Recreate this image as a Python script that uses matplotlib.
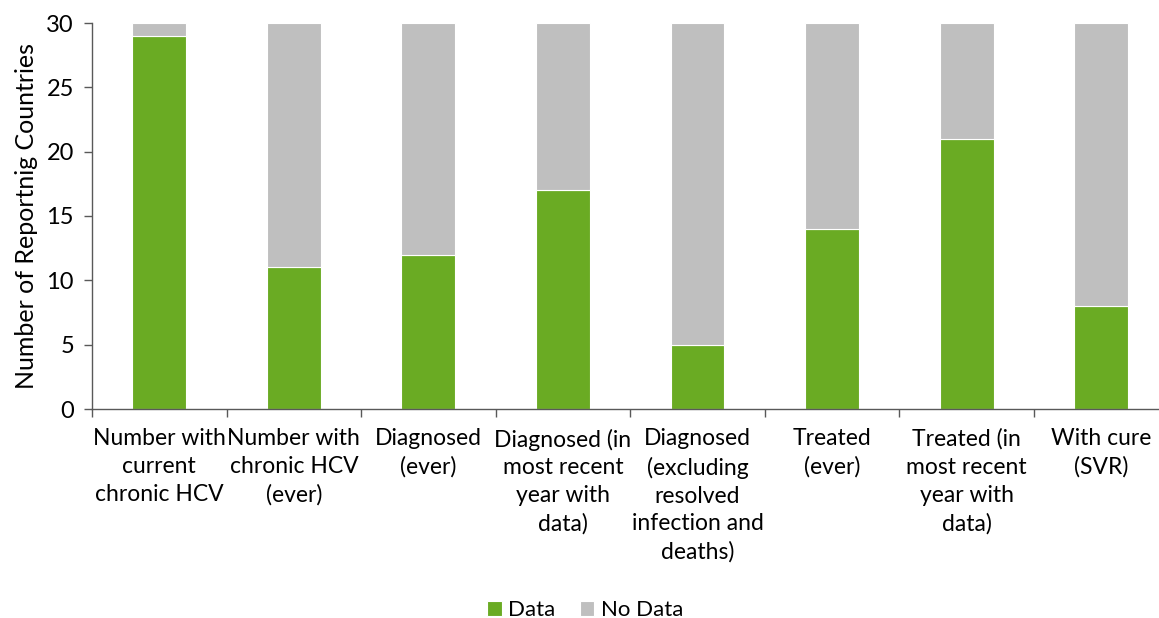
import matplotlib.pyplot as plt
import numpy as np

# -------------------------
# DATA
# -------------------------
categories = [
    'Number with\ncurrent\nchronic HCV',
    'Number with\nchronic HCV\n(ever)',
    'Diagnosed\n(ever)',
    'Diagnosed (in\nmost recent\nyear with\ndata)',
    'Diagnosed\n(excluding\nresolved\ninfection and\ndeaths)',
    'Treated\n(ever)',
    'Treated (in\nmost recent\nyear with\ndata)',
    'With cure\n(SVR)',
]
data = [29, 11, 12, 17, 5, 14, 21, 8]
no_data = [1, 19, 18, 13, 25, 16, 9, 22]

green = '#6AAB23'
grey = '#BFBFBF'

plt.rcParams['font.family'] = ['Lato', 'DejaVu Sans']

fig = plt.figure(figsize=(11.59, 6.18), dpi=100)
ax = fig.add_axes([92 / 1159, 209 / 618, 1 - 92 / 1159, (409 - 23) / 618])

x = np.arange(len(categories))
ax.bar(x, data, width=0.40, color=green, edgecolor='white', linewidth=0.8, label='Data')
ax.bar(x, no_data, width=0.40, bottom=data, color=grey, edgecolor='white', linewidth=0.8, label='No Data')

ax.set_ylim(0, 30)
ax.set_xlim(-0.5, 7.43)
ax.set_yticks(range(0, 31, 5))
ax.tick_params(axis='y', labelsize=17, length=6, width=1, color='#595959', pad=7)

# category labels centred, ticks between categories
ax.set_xticks(x)
ax.set_xticklabels(categories, fontsize=16.5, linespacing=1.4)
ax.tick_params(axis='x', length=0, pad=14)
ax.set_xticks(np.arange(-0.5, 7.5, 1), minor=True)
ax.tick_params(axis='x', which='minor', length=6, width=1, color='#595959')

for side in ['top', 'right']:
    ax.spines[side].set_visible(False)
for side in ['left', 'bottom']:
    ax.spines[side].set_color('#595959')
    ax.spines[side].set_linewidth(1)

ax.set_ylabel('Number of Reportnig Countries', fontsize=18, labelpad=6)

fig.legend(loc='lower center', bbox_to_anchor=(0.505, -0.036), ncol=2, frameon=False,
           fontsize=16, handlelength=0.65, handleheight=0.65, handletextpad=0.3,
           columnspacing=1.1)

plt.savefig('out.png', dpi=100)
